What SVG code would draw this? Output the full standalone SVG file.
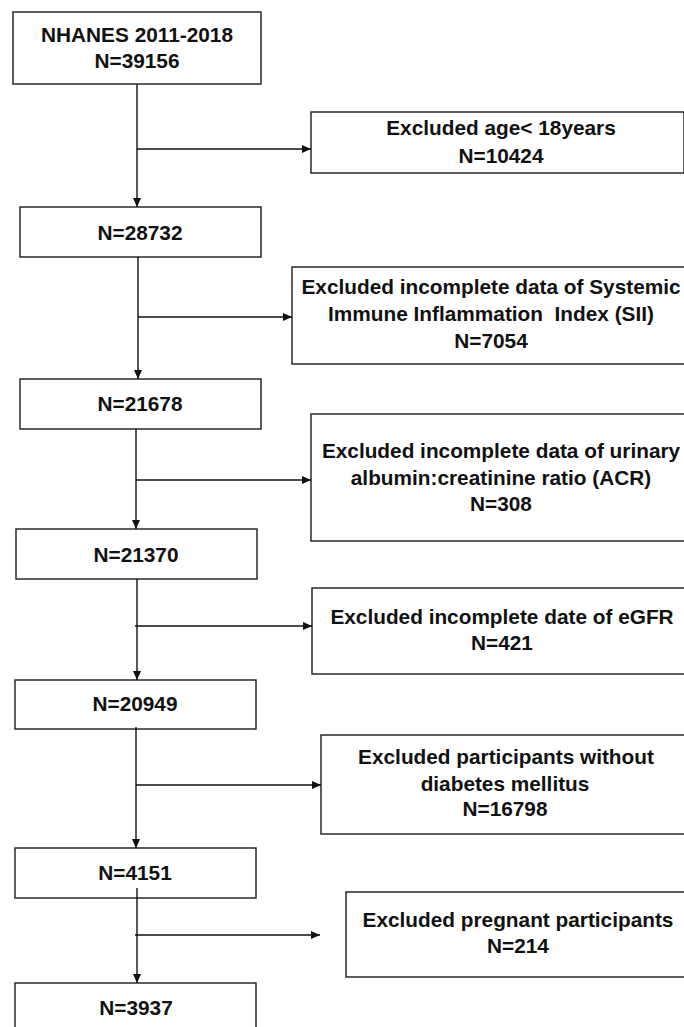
<svg xmlns="http://www.w3.org/2000/svg" width="684" height="1027" viewBox="0 0 684 1027">
<defs>
<style>
.box{fill:#fff;stroke:#2a2a2a;stroke-width:1.5}
.t{font-family:"Liberation Sans",Arial,sans-serif;font-weight:bold;font-size:20.8px;fill:#111;text-anchor:middle}
.ln{stroke:#111;stroke-width:1.4;fill:none}
</style>
<marker id="ah" markerUnits="userSpaceOnUse" markerWidth="10" markerHeight="9" refX="9" refY="4" orient="auto">
<path d="M0,0 L9,4 L0,8 z" fill="#111"/>
</marker>
</defs>
<rect width="684" height="1027" fill="#fff"/>
<g id="n1">
<rect class="box" x="13" y="12" width="248" height="72"/>
<text class="t" x="137" y="42">NHANES 2011-2018</text>
<text class="t" x="137" y="68">N=39156</text>
</g>
<g id="e1">
<rect class="box" x="311" y="112" width="373" height="61"/>
<text class="t" x="501" y="135">Excluded age&lt; 18years</text>
<text class="t" x="501" y="163">N=10424</text>
</g>
<g id="n2">
<rect class="box" x="20" y="207" width="241" height="50"/>
<text class="t" x="140" y="240">N=28732</text>
</g>
<g id="e2">
<rect class="box" x="292" y="267" width="393" height="97"/>
<text class="t" x="491" y="294">Excluded incomplete data of Systemic</text>
<text class="t" x="491" y="321" xml:space="preserve">Immune Inflammation  Index (SII)</text>
<text class="t" x="491" y="348">N=7054</text>
</g>
<g id="n3">
<rect class="box" x="20" y="379" width="241" height="50"/>
<text class="t" x="140" y="411">N=21678</text>
</g>
<g id="e3">
<rect class="box" x="311" y="414" width="374" height="127"/>
<text class="t" x="501" y="458">Excluded incomplete data of urinary</text>
<text class="t" x="501" y="485">albumin:creatinine ratio (ACR)</text>
<text class="t" x="501" y="511">N=308</text>
</g>
<g id="n4">
<rect class="box" x="16" y="529" width="241" height="50"/>
<text class="t" x="136" y="562">N=21370</text>
</g>
<g id="e4">
<rect class="box" x="312" y="588" width="373" height="86"/>
<text class="t" x="502" y="624">Excluded incomplete date of eGFR</text>
<text class="t" x="502" y="650">N=421</text>
</g>
<g id="n5">
<rect class="box" x="15" y="680" width="241" height="49"/>
<text class="t" x="135" y="711">N=20949</text>
</g>
<g id="e5">
<rect class="box" x="321" y="735" width="364" height="99"/>
<text class="t" x="506" y="764">Excluded participants without</text>
<text class="t" x="505" y="791">diabetes mellitus</text>
<text class="t" x="505" y="816">N=16798</text>
</g>
<g id="n6">
<rect class="box" x="15" y="848" width="241" height="50"/>
<text class="t" x="135" y="880">N=4151</text>
</g>
<g id="e6">
<rect class="box" x="346" y="892" width="339" height="85"/>
<text class="t" x="518" y="927">Excluded pregnant participants</text>
<text class="t" x="518" y="953">N=214</text>
</g>
<g id="n7">
<rect class="box" x="15" y="983" width="241" height="60"/>
<text class="t" x="136" y="1015">N=3937</text>
</g>
<g id="connectors">
<line class="ln" x1="137" y1="84" x2="137" y2="207" marker-end="url(#ah)"/>
<line class="ln" x1="137" y1="149" x2="311" y2="149" marker-end="url(#ah)"/>
<line class="ln" x1="138" y1="257" x2="138" y2="379" marker-end="url(#ah)"/>
<line class="ln" x1="138" y1="317" x2="292" y2="317" marker-end="url(#ah)"/>
<line class="ln" x1="136" y1="429" x2="136" y2="529" marker-end="url(#ah)"/>
<line class="ln" x1="136" y1="480" x2="311" y2="480" marker-end="url(#ah)"/>
<line class="ln" x1="137" y1="579" x2="137" y2="680" marker-end="url(#ah)"/>
<line class="ln" x1="135" y1="626" x2="312" y2="626" marker-end="url(#ah)"/>
<line class="ln" x1="136" y1="727" x2="136" y2="848" marker-end="url(#ah)"/>
<line class="ln" x1="136" y1="785" x2="321" y2="785" marker-end="url(#ah)"/>
<line class="ln" x1="137" y1="888" x2="137" y2="983" marker-end="url(#ah)"/>
<line class="ln" x1="135" y1="935" x2="320" y2="935" marker-end="url(#ah)"/>
</g>
</svg>
